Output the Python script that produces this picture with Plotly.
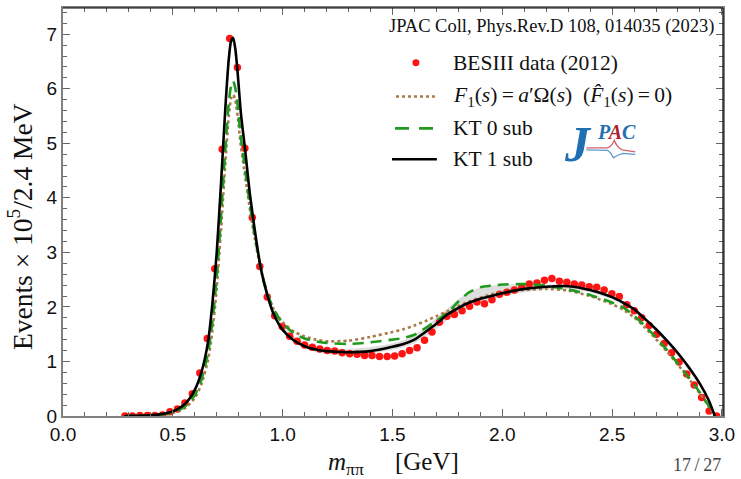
import plotly.graph_objects as go

# ---------------- data ----------------
data_m = [0.282, 0.316, 0.350, 0.384, 0.418, 0.453, 0.487, 0.521, 0.555, 0.589,
          0.623, 0.657, 0.691, 0.725, 0.759, 0.794, 0.828, 0.862, 0.896, 0.930,
          0.964, 0.998, 1.032, 1.066, 1.100, 1.135, 1.169, 1.203, 1.237, 1.271,
          1.305, 1.339, 1.373, 1.407, 1.441, 1.476, 1.510, 1.544, 1.578, 1.612,
          1.646, 1.680, 1.714, 1.748, 1.782, 1.817, 1.851, 1.885, 1.919, 1.953,
          1.987, 2.021, 2.055, 2.089, 2.123, 2.158, 2.192, 2.226, 2.260, 2.294,
          2.328, 2.362, 2.396, 2.430, 2.464, 2.499, 2.533, 2.567, 2.601, 2.635,
          2.669, 2.703, 2.737, 2.771, 2.805, 2.840, 2.874, 2.908, 2.942, 2.976]
data_v = [0.00, 0.00, 0.01, 0.01, 0.01, 0.02, 0.08, 0.13, 0.24, 0.41,
          0.79, 1.42, 2.70, 4.89, 6.92, 6.39, 4.91, 3.64, 2.74, 2.18,
          1.84, 1.64, 1.46, 1.37, 1.30, 1.26, 1.23, 1.20, 1.19, 1.16,
          1.14, 1.13, 1.11, 1.11, 1.09, 1.09, 1.10, 1.14, 1.20, 1.25,
          1.39, 1.54, 1.72, 1.83, 1.86, 1.93, 2.01, 2.09, 2.06, 2.13,
          2.23, 2.27, 2.31, 2.36, 2.42, 2.44, 2.49, 2.52, 2.47, 2.45,
          2.42, 2.40, 2.37, 2.36, 2.31, 2.24, 2.19, 2.04, 1.93, 1.80,
          1.66, 1.50, 1.33, 1.16, 0.99, 0.77, 0.57, 0.34, 0.09, 0.00]

curve_m = [0.279, 0.32, 0.36, 0.40, 0.44, 0.48, 0.52, 0.56, 0.60, 0.63,
           0.66, 0.68, 0.70, 0.72, 0.74, 0.755, 0.765, 0.775, 0.785, 0.795,
           0.81, 0.83, 0.85, 0.87, 0.90, 0.93, 0.96, 1.0, 1.05, 1.1,
           1.15, 1.2, 1.3, 1.4, 1.5, 1.55, 1.6, 1.65, 1.7, 1.75,
           1.8, 1.85, 1.9, 1.95, 2.0, 2.1, 2.2, 2.3, 2.4, 2.5,
           2.55, 2.6, 2.65, 2.7, 2.75, 2.8, 2.85, 2.9, 2.94, 2.968]
kt1_sub = [0.0, 0.002, 0.006, 0.015, 0.03, 0.06, 0.12, 0.24, 0.48, 0.80,
           1.35, 2.05, 3.0, 4.3, 5.7, 6.55, 6.87, 6.93, 6.72, 6.30,
           5.55, 4.85, 4.1, 3.5, 2.72, 2.22, 1.86, 1.58, 1.39, 1.28,
           1.22, 1.19, 1.17, 1.19, 1.27, 1.32, 1.40, 1.54, 1.69, 1.86,
           1.98, 2.08, 2.15, 2.20, 2.25, 2.33, 2.37, 2.38, 2.31, 2.18,
           2.08, 1.96, 1.78, 1.59, 1.38, 1.15, 0.89, 0.59, 0.29, 0.0]
kt0_sub = [0.0, 0.001, 0.004, 0.01, 0.02, 0.045, 0.09, 0.19, 0.38, 0.66,
           1.15, 1.72, 2.55, 3.7, 4.95, 5.75, 6.05, 6.14, 6.0, 5.7,
           5.1, 4.5, 3.9, 3.38, 2.72, 2.25, 1.95, 1.70, 1.52, 1.42,
           1.37, 1.34, 1.32, 1.35, 1.40, 1.43, 1.49, 1.61, 1.75, 1.89,
           2.10, 2.27, 2.36, 2.39, 2.41, 2.42, 2.39, 2.32, 2.22, 2.08,
           1.99, 1.84, 1.65, 1.44, 1.21, 0.96, 0.70, 0.43, 0.19, 0.0]
f1_omnes = [0.0, 0.001, 0.003, 0.008, 0.016, 0.035, 0.075, 0.16, 0.33, 0.58,
            1.02, 1.55, 2.35, 3.45, 4.7, 5.5, 5.82, 5.89, 5.78, 5.5,
            4.95, 4.38, 3.82, 3.32, 2.7, 2.25, 1.95, 1.72, 1.55, 1.46,
            1.40, 1.37, 1.38, 1.45, 1.54, 1.59, 1.66, 1.74, 1.83, 1.92,
            2.02, 2.10, 2.17, 2.23, 2.27, 2.31, 2.33, 2.30, 2.20, 2.05,
            1.95, 1.81, 1.62, 1.41, 1.18, 0.94, 0.68, 0.41, 0.18, 0.0]

band_m = [0.96, 1.0, 1.05, 1.1, 1.15, 1.2, 1.3, 1.4, 1.5, 1.55, 1.6, 1.65, 1.7, 1.75,
          1.8, 1.85, 1.9, 1.95, 2.0, 2.1, 2.2, 2.3, 2.4, 2.5, 2.6, 2.7, 2.8, 2.9]
band_lo = [1.83, 1.55, 1.35, 1.24, 1.17, 1.14, 1.12, 1.14, 1.21, 1.26, 1.33, 1.46, 1.60, 1.76,
           1.90, 2.01, 2.08, 2.14, 2.19, 2.27, 2.32, 2.33, 2.27, 2.14, 1.92, 1.55, 1.10, 0.55]
band_hi = [1.92, 1.65, 1.46, 1.34, 1.28, 1.25, 1.23, 1.26, 1.33, 1.39, 1.48, 1.63, 1.80, 1.97,
           2.14, 2.27, 2.36, 2.39, 2.41, 2.42, 2.41, 2.42, 2.35, 2.22, 2.00, 1.63, 1.19, 0.62]

x_ticks = [0.0, 0.5, 1.0, 1.5, 2.0, 2.5, 3.0]
x_ticklabels = ["0.0", "0.5", "1.0", "1.5", "2.0", "2.5", "3.0"]
y_ticks = [0, 1, 2, 3, 4, 5, 6, 7]
y_ticklabels = ["0", "1", "2", "3", "4", "5", "6", "7"]

legend_labels = [
    "BESIII data (2012)",
    "<i>F</i><sub>1</sub>(<i>s</i>)\u2009=\u2009<i>a</i>′Ω(<i>s</i>)\u2002(<i>F\u0302</i><sub>1</sub>(<i>s</i>)\u2009=\u20090)",
    "KT 0 sub",
    "KT 1 sub",
]

# ---------------- style ----------------
W, H = 741, 479
L, R, T, B = 63, 16, 6, 63
PW, PH = W - L - R, H - T - B
SERIF = "Liberation Serif, Times New Roman, serif"
SANS = "Liberation Sans, Arial, sans-serif"
RED = "#ff1414"
BROWN = "#a87a48"
GREEN = "#1f9a1f"
BLUE = "#1f6fb2"
DRED = "#b0202c"


def px(x):
    return (x - L) / PW


def py(y):
    return (H - B - y) / PH


fig = go.Figure()

fig.add_trace(go.Scatter(
    x=band_m + band_m[::-1], y=band_hi + band_lo[::-1],
    fill="toself", fillcolor="rgba(190,190,190,0.5)",
    line=dict(width=0), mode="lines", hoverinfo="skip", showlegend=False))

fig.add_trace(go.Scatter(
    x=data_m, y=data_v, mode="markers",
    marker=dict(color=RED, size=7.5, line=dict(width=0)), showlegend=False))

fig.add_trace(go.Scatter(
    x=curve_m, y=f1_omnes, mode="lines",
    line=dict(color=BROWN, width=2.6, dash="dot", shape="spline", smoothing=0.6),
    showlegend=False))
fig.add_trace(go.Scatter(
    x=curve_m, y=kt0_sub, mode="lines",
    line=dict(color=GREEN, width=2.6, dash="11px,7px", shape="spline", smoothing=0.6),
    showlegend=False))
fig.add_trace(go.Scatter(
    x=curve_m, y=kt1_sub, mode="lines",
    line=dict(color="black", width=2.6, shape="spline", smoothing=0.6),
    showlegend=False))

axis_common = dict(
    ticks="inside", ticklen=7, tickwidth=1, tickcolor="#666",
    showline=True, linecolor="#808080", linewidth=2, mirror="ticks",
    showgrid=False, zeroline=False,
    tickfont=dict(family=SANS, size=19, color="#111"),
)

fig.update_xaxes(range=[0, 3.005], tickmode="array", tickvals=x_ticks, ticktext=x_ticklabels,
                 minor=dict(dtick=0.1, tick0=0, ticks="inside", ticklen=4, tickcolor="#666"),
                 **axis_common)
fig.update_yaxes(range=[0, 7.48], tickmode="array", tickvals=y_ticks, ticktext=y_ticklabels,
                 minor=dict(dtick=0.2, tick0=0, ticks="inside", ticklen=4, tickcolor="#666"),
                 **axis_common)

shapes = [
    dict(type="line", xref="paper", yref="paper", x0=0, x1=1, y0=1, y1=1,
         line=dict(color="black", width=1.2)),
    dict(type="line", xref="paper", yref="paper", x0=1, x1=1, y0=0, y1=1,
         line=dict(color="black", width=1.2)),
]

# manual legend
rows_y = [61, 95, 127, 158]
shapes.append(dict(type="circle", xref="paper", yref="paper",
                   x0=px(413.5), x1=px(420.5), y0=py(rows_y[0] + 3.5), y1=py(rows_y[0] - 3.5),
                   fillcolor=RED, line=dict(width=0)))
shapes.append(dict(type="line", xref="paper", yref="paper",
                   x0=px(397), x1=px(436), y0=py(rows_y[1]), y1=py(rows_y[1]),
                   line=dict(color=BROWN, width=2.6, dash="dot")))
shapes.append(dict(type="line", xref="paper", yref="paper",
                   x0=px(396), x1=px(435), y0=py(rows_y[2]), y1=py(rows_y[2]),
                   line=dict(color=GREEN, width=2.6, dash="14px,10px")))
shapes.append(dict(type="line", xref="paper", yref="paper",
                   x0=px(393), x1=px(438), y0=py(rows_y[3]), y1=py(rows_y[3]),
                   line=dict(color="black", width=2.6)))


# JPAC logo curves
def P(x, y):
    return f"{px(x):.5f},{py(y):.5f}"


red_path = ("M " + P(588, 146.5) + " L " + P(609, 146.5) + " Q " + P(613, 146) + " " + P(616, 139)
            + " Q " + P(619, 147) + " " + P(624, 148.5) + " L " + P(637, 150.5))
blue_path = ("M " + P(588, 148.5) + " L " + P(609, 149) + " Q " + P(612, 150) + " " + P(615, 156.5)
             + " Q " + P(620, 153) + " " + P(625, 152) + " L " + P(637, 153))
shapes.append(dict(type="path", xref="paper", yref="paper", path=red_path,
                   line=dict(color="#d0606a", width=1.3)))
shapes.append(dict(type="path", xref="paper", yref="paper", path=blue_path,
                   line=dict(color="#5a9ad0", width=1.3)))

annotations = []
for i, lab in enumerate(legend_labels):
    annotations.append(dict(x=px(452), y=py(rows_y[i]), xref="paper", yref="paper",
                            text=lab, showarrow=False, xanchor="left", yanchor="middle",
                            font=dict(family=SERIF, size=21.5, color="#111")))

annotations.append(dict(x=px(719), y=py(25), xref="paper", yref="paper",
                        text="JPAC Coll, Phys.Rev.D 108, 014035 (2023)", showarrow=False,
                        xanchor="right", yanchor="middle",
                        font=dict(family=SERIF, size=18.5, color="#111")))

annotations.append(dict(x=px(21), y=py(226), xref="paper", yref="paper",
                        text="Events × 10<sup>5</sup>/2.4 MeV", showarrow=False, textangle=-90,
                        xanchor="center", yanchor="middle",
                        font=dict(family=SERIF, size=27.5, color="#111")))
annotations.append(dict(x=px(394), y=py(464), xref="paper", yref="paper",
                        text="<i>m</i><sub>ππ</sub>\u00a0\u00a0\u00a0\u00a0\u00a0[GeV]", showarrow=False,
                        xanchor="center", yanchor="middle",
                        font=dict(family=SERIF, size=25, color="#111")))
annotations.append(dict(x=px(725), y=py(465), xref="paper", yref="paper",
                        text="17\u2009/\u200927", showarrow=False,
                        xanchor="right", yanchor="middle",
                        font=dict(family=SERIF, size=18, color="#444")))

# JPAC logo text
annotations.append(dict(x=px(580), y=py(143), xref="paper", yref="paper",
                        text="<b><i>J</i></b>", showarrow=False,
                        xanchor="center", yanchor="middle",
                        font=dict(family=SERIF, size=50, color=BLUE)))
annotations.append(dict(x=px(618), y=py(131), xref="paper", yref="paper",
                        text=f"<b><i><span style='color:{BLUE}'>P</span><span style='color:{DRED}'>A</span><span style='color:{BLUE}'>C</span></i></b>",
                        showarrow=False, xanchor="center", yanchor="middle",
                        font=dict(family=SERIF, size=20, color=BLUE)))

fig.update_layout(
    width=W, height=H,
    margin=dict(l=L, r=R, t=T, b=B, pad=0),
    paper_bgcolor="white", plot_bgcolor="white",
    showlegend=False,
    shapes=shapes, annotations=annotations,
)

fig.write_html("out.html")
